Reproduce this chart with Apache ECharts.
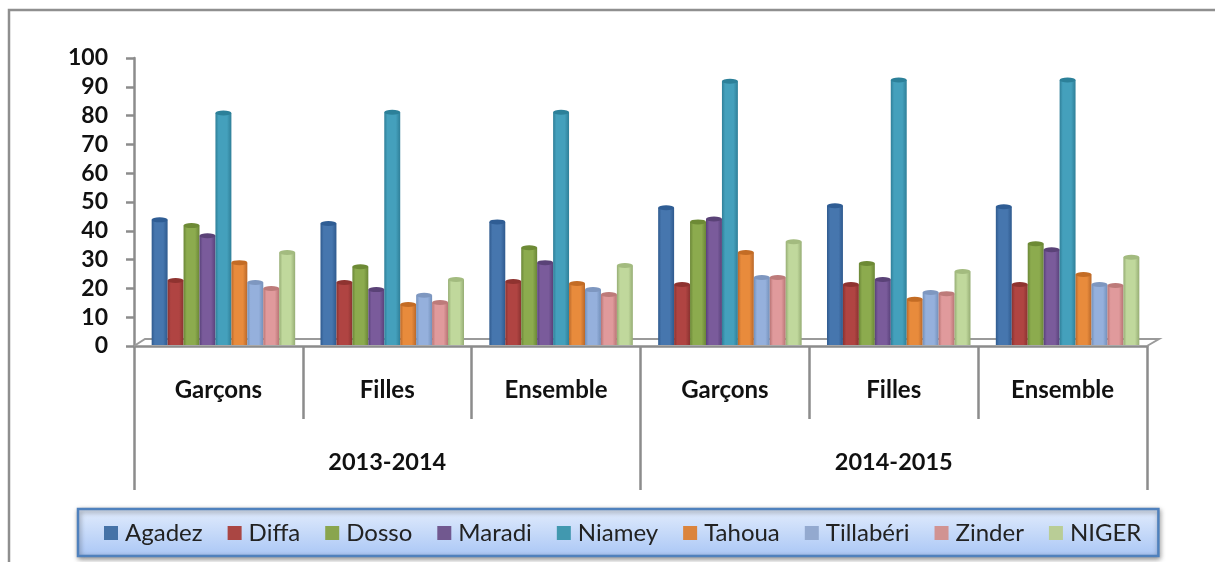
<!DOCTYPE html>
<html><head><meta charset="utf-8">
<style>html,body{margin:0;padding:0;background:#fff}#c{width:1215px;height:562px}</style>
<script src="https://cdn.jsdelivr.net/npm/echarts@6/dist/echarts.min.js"></script>
</head><body><div id="c"></div>
<script>
var categories = ['Garçons','Filles','Ensemble','Garçons','Filles','Ensemble'];
var years = ['2013-2014','2014-2015'];
var yTicks = [0,10,20,30,40,50,60,70,80,90,100];
var Agadez  = [43.6,42.3,42.9,47.8,48.5,48.2];
var Diffa   = [22.5,21.8,22.1,21.1,21.1,21.1];
var Dosso   = [41.6,27.3,33.9,42.9,28.4,35.3];
var Maradi  = [38.1,19.3,28.7,43.9,22.8,33.2];
var Niamey  = [80.8,81.1,81.1,91.9,92.3,92.3];
var Tahoua  = [28.7,14.1,21.4,32.2,15.9,24.6];
var Tillaberi = [21.8,17.3,19.3,23.5,18.3,21.1];
var Zinder  = [19.7,14.8,17.6,23.5,17.9,20.7];
var NIGER   = [32.2,22.8,27.7,36,25.6,30.6];
var names = ['Agadez','Diffa','Dosso','Maradi','Niamey','Tahoua','Tillabéri','Zinder','NIGER'];
var values = [Agadez,Diffa,Dosso,Maradi,Niamey,Tahoua,Tillaberi,Zinder,NIGER];
var colors = ['#4676ae','#b04442','#8cab4e','#7a5b9b','#44a0bc','#e88b3c','#95b0dc','#e09a9c','#c0d89c'];
var swatch = ['#4572a7','#aa4643','#89a54e','#71588f','#4198af','#db843d','#93a9cf','#d19392','#b9cd96'];
var darks  = ['#2f5a8e','#8a3230','#6a8636','#58417a','#2f7f98','#b9682a','#7390ba','#b87474','#96ad74'];
var tops   = ['#2f5d94','#8f3330','#6d8a35','#5a4277','#2c8099','#c36c25','#7e97c0','#bd7b7a','#a3bb7f'];
var font = 'Lato, "Open Sans", sans-serif';
function grad(c,d){return {type:'linear',x:0,y:0,x2:1,y2:0,colorStops:[
  {offset:0,color:d},{offset:.2,color:c},{offset:.72,color:c},{offset:1,color:d}]};}
var series=[];
names.forEach(function(n,i){
  series.push({name:n,type:'bar',xAxisIndex:0,yAxisIndex:0,data:values[i],barGap:0,barCategoryGap:'15%',
    itemStyle:{color:grad(colors[i],darks[i])},z:3,silent:true});
});
names.forEach(function(n,i){
  series.push({name:n,type:'pictorialBar',xAxisIndex:0,yAxisIndex:0,data:values[i],symbol:'circle',
    symbolSize:['100%',5],symbolPosition:'end',symbolOffset:[0,'-50%'],barGap:0,barCategoryGap:'15%',
    itemStyle:{color:tops[i]},z:4,silent:true});
});
var axisGrey='#8c8c8c';
var option={
  animation:false,backgroundColor:'#fff',
  color:swatch,
  grid:[
    {left:139,top:58,width:1013,height:287},
    {left:134,top:58,width:1013,height:288}
  ],
  xAxis:[
    {type:'category',gridIndex:0,data:categories,show:false},
    {type:'category',gridIndex:1,data:categories,position:'bottom',
      axisLine:{show:true,lineStyle:{color:axisGrey,width:2.5}},
      axisTick:{show:true,length:73,lineStyle:{color:axisGrey,width:2.5}},
      axisLabel:{interval:0,margin:32,color:'#111',fontFamily:font,fontWeight:'bold',fontSize:24}},
    {type:'category',gridIndex:1,data:years,position:'bottom',
      axisLine:{show:false},
      axisTick:{show:true,length:144,lineStyle:{color:axisGrey,width:2.5}},
      axisLabel:{interval:0,margin:104,color:'#111',fontFamily:font,fontWeight:'bold',fontSize:23.5}}
  ],
  yAxis:[
    {type:'value',gridIndex:0,min:0,max:100,interval:10,show:false},
    {type:'value',gridIndex:1,min:0,max:100,interval:10,
      axisLine:{show:true,lineStyle:{color:axisGrey,width:2.5}},
      axisTick:{show:true,length:8,lineStyle:{color:axisGrey,width:2.5}},
      splitLine:{show:false},
      axisLabel:{margin:26,color:'#111',fontFamily:font,fontWeight:'bold',fontSize:23}}
  ],
  legend:{left:78,top:509,padding:[12,17,11,26],itemGap:25,itemWidth:14,itemHeight:14,
    icon:'rect',data:names.map(function(n,i){return {name:n,itemStyle:{color:swatch[i]}};}),
    textStyle:{color:'#222',fontFamily:font,fontSize:24,padding:[0,0,0,2]},
    backgroundColor:{type:'linear',x:0,y:0,x2:0,y2:1,colorStops:[{offset:0,color:'#e3edfd'},{offset:1,color:'#a9c6f5'}]},
    borderColor:'#4f81bd',borderWidth:2.5,shadowColor:'rgba(0,0,0,.4)',shadowBlur:5,shadowOffsetX:1,shadowOffsetY:2},
  graphic:[
    {type:'polyline',silent:true,z:1,shape:{points:[[9,562],[9,10],[1215,10]]},style:{fill:null,stroke:'#8f8f8f',lineWidth:2.5}},
    {type:'polyline',silent:true,z:1,shape:{points:[[134,346],[145,339],[1159,339],[1147,346]]},style:{fill:null,stroke:'#9a9a9a',lineWidth:2}}
  ],
  series:series
};
echarts.init(document.getElementById('c')).setOption(option);
</script></body></html>
